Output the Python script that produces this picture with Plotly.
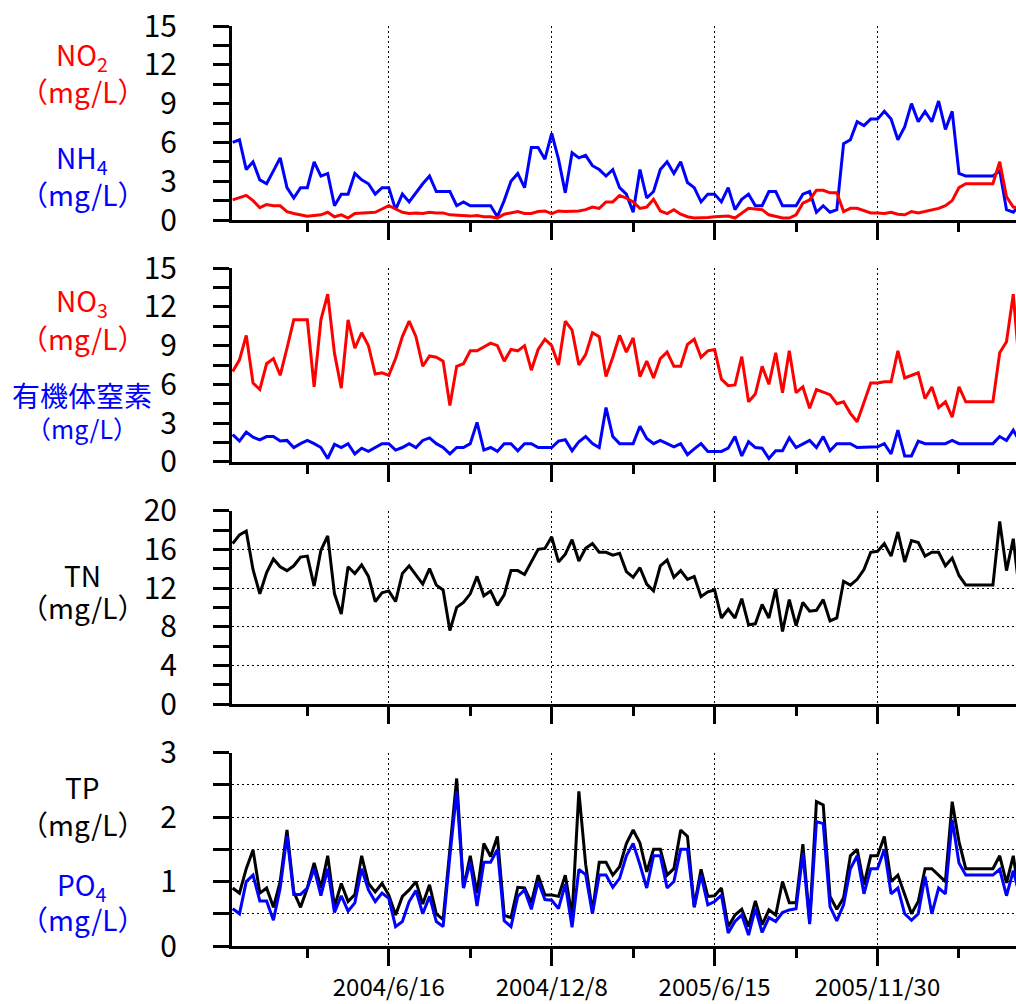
import plotly.graph_objects as go

# Sample number (weekly survey index) shared by every panel
sample_no = list(range(1, 118))

# Panel 1: nitrite and ammonium (mg/L)
no2 = [1.55, 1.7, 1.9, 1.5, 0.95, 1.2, 1.1, 1.1, 0.65, 0.5,
       0.4, 0.3, 0.35, 0.4, 0.6, 0.25, 0.4, 0.15, 0.5, 0.55,
       0.6, 0.6, 0.85, 1.1, 0.85, 0.6, 0.5, 0.55, 0.5, 0.6,
       0.55, 0.55, 0.4, 0.35, 0.3, 0.3, 0.35, 0.25, 0.25, 0.15,
       0.45, 0.55, 0.65, 0.5, 0.5, 0.65, 0.7, 0.5, 0.7, 0.65,
       0.65, 0.7, 0.8, 1.0, 0.9, 1.4, 1.4, 1.9, 1.7, 1.4,
       0.9, 1.0, 1.6, 0.7, 0.5, 0.8, 0.45, 0.25, 0.15, 0.15,
       0.2, 0.25, 0.25, 0.3, 0.15, 0.5, 0.9, 0.85, 0.8, 0.4,
       0.25, 0.15, 0.15, 0.4, 1.3, 1.55, 2.3, 2.3, 2.1, 2.1,
       0.65, 0.9, 0.9, 0.7, 0.55, 0.55, 0.5, 0.6, 0.45, 0.4,
       0.65, 0.55, 0.65, 0.8, 0.9, 1.1, 1.5, 2.5, 2.8, 2.8,
       2.8, 2.8, 2.8, 4.5, 1.8, 1.0, 0.9]
nh4 = [6.0, 6.2, 3.9, 4.5, 3.1, 2.8, 3.8, 4.8, 2.5, 1.7,
       2.5, 2.5, 4.5, 3.4, 3.6, 1.1, 2.0, 2.0, 3.6, 3.1,
       2.8, 2.0, 2.5, 2.5, 0.8, 2.0, 1.4, 2.1, 2.8, 3.4,
       2.2, 2.2, 2.2, 1.1, 1.4, 1.1, 1.1, 1.1, 1.1, 0.25,
       1.5, 3.0, 3.6, 2.5, 5.6, 5.6, 4.7, 6.7, 4.7, 2.1,
       5.2, 4.8, 5.0, 4.2, 3.9, 3.4, 3.9, 2.5, 2.0, 0.6,
       3.9, 1.7, 2.2, 3.9, 4.5, 3.6, 4.5, 2.9, 2.5, 1.4,
       2.0, 2.0, 1.4, 2.5, 0.8, 1.6, 2.0, 1.1, 1.1, 2.2,
       2.2, 1.1, 1.1, 1.1, 2.0, 2.2, 0.6, 1.1, 0.6, 0.8,
       5.9, 6.2, 7.6, 7.3, 7.8, 7.8, 8.4, 7.8, 6.2, 7.2,
       9.0, 7.6, 8.4, 7.6, 9.2, 7.0, 8.4, 3.6, 3.4, 3.4,
       3.4, 3.4, 3.4, 3.8, 0.8, 0.6, 1.2]

# Panel 2: nitrate and organic nitrogen (mg/L)
no3 = [7.0, 7.9, 9.8, 6.1, 5.6, 7.6, 8.0, 6.7, 8.8, 11.0,
       11.0, 11.0, 5.8, 11.0, 13.0, 8.4, 5.7, 11.0, 8.8, 10.0,
       9.0, 6.8, 6.9, 6.7, 8.0, 9.7, 10.9, 9.7, 7.4, 8.2,
       8.1, 7.8, 4.35, 7.4, 7.6, 8.6, 8.6, 8.9, 9.2, 9.0,
       7.8, 8.7, 8.6, 9.0, 7.1, 8.7, 9.5, 9.0, 7.5, 10.9,
       10.2, 7.5, 8.3, 10.0, 9.7, 6.6, 8.1, 9.8, 8.5, 9.6,
       6.6, 7.8, 6.5, 8.0, 8.5, 7.4, 7.4, 9.1, 9.5, 8.1,
       8.6, 8.7, 6.4, 5.9, 5.95, 8.15, 4.65, 5.25, 7.4, 6.0,
       8.45, 5.35, 8.6, 5.35, 5.8, 4.15, 5.6, 5.4, 5.2, 4.5,
       4.65, 3.75, 3.1, 4.6, 6.1, 6.1, 6.2, 6.2, 8.6, 6.5,
       6.7, 6.9, 4.9, 5.8, 4.2, 4.65, 3.45, 5.8, 4.65, 4.65,
       4.65, 4.65, 4.65, 8.45, 9.3, 13.0, 6.7]
org_n = [2.1, 1.6, 2.3, 1.9, 1.7, 1.95, 1.95, 1.6, 1.65, 1.1,
         1.4, 1.65, 1.4, 1.1, 0.25, 1.35, 1.1, 1.4, 0.6, 1.05,
         0.8, 1.1, 1.4, 1.4, 0.9, 1.1, 1.4, 1.1, 1.65, 1.85,
         1.4, 1.1, 0.6, 1.1, 1.1, 1.4, 3.05, 0.9, 1.1, 0.8,
         1.4, 1.4, 0.85, 1.4, 1.4, 1.1, 1.1, 1.1, 1.6, 1.7,
         0.85, 1.55, 1.95, 1.4, 1.1, 4.2, 1.95, 1.4, 1.4, 1.4,
         2.75, 1.8, 1.4, 1.65, 1.4, 1.15, 1.4, 0.55, 1.0, 1.4,
         0.8, 0.8, 0.8, 1.05, 1.95, 0.45, 1.55, 1.1, 1.05, 0.25,
         0.85, 0.85, 1.85, 1.1, 1.4, 1.65, 1.1, 1.95, 0.85, 1.4,
         1.4, 1.4, 1.1, 1.1, 1.15, 1.15, 1.4, 0.6, 2.45, 0.45,
         0.45, 1.6, 1.4, 1.4, 1.4, 1.4, 1.65, 1.4, 1.4, 1.4,
         1.4, 1.4, 1.4, 1.95, 1.65, 2.45, 1.5]

# Panel 3: total nitrogen (mg/L)
tn = [16.6, 17.5, 17.9, 13.9, 11.4, 13.6, 15.0, 14.2, 13.8, 14.3,
      15.2, 15.3, 12.2, 15.9, 17.4, 11.4, 9.3, 14.2, 13.5, 14.4,
      13.2, 10.6, 11.5, 11.7, 10.6, 13.5, 14.3, 13.4, 12.4, 14.0,
      12.3, 11.8, 7.6, 10.0, 10.5, 11.4, 13.2, 11.2, 11.7, 10.2,
      11.3, 13.8, 13.8, 13.4, 14.7, 16.0, 16.1, 17.3, 14.7, 15.5,
      17.0, 14.8, 16.1, 16.6, 15.7, 15.7, 15.4, 15.6, 13.7, 13.1,
      14.1, 12.4, 11.7, 14.3, 14.9, 13.1, 13.8, 12.9, 13.2, 11.1,
      11.6, 11.8, 8.9, 9.8, 8.9, 10.9, 8.2, 8.3, 10.3, 8.9,
      11.9, 7.5, 10.8, 8.1, 10.5, 9.6, 9.7, 10.8, 8.6, 8.9,
      12.7, 12.3, 12.9, 13.9, 15.7, 15.8, 16.6, 15.3, 17.8, 14.7,
      16.9, 16.7, 15.3, 15.7, 15.7, 14.3, 15.1, 13.3, 12.3, 12.3,
      12.3, 12.3, 12.3, 18.9, 13.8, 17.1, 11.0]

# Panel 4: total phosphorus and phosphate (mg/L)
tp = [0.9, 0.82, 1.2, 1.49, 0.82, 0.9, 0.6, 1.0, 1.8, 0.84,
      0.6, 0.9, 1.29, 0.9, 1.4, 0.61, 0.97, 0.69, 0.8, 1.4,
      0.97, 0.84, 0.97, 0.79, 0.48, 0.77, 0.87, 1.0, 0.65, 0.95,
      0.5, 0.41, 1.5, 2.6, 0.9, 1.4, 0.82, 1.59, 1.39, 1.7,
      0.48, 0.44, 0.91, 0.9, 0.67, 1.1, 0.79, 0.79, 0.77, 1.1,
      0.46, 2.4, 1.27, 0.53, 1.3, 1.3, 1.1, 1.23, 1.59, 1.8,
      1.6, 1.15, 1.5, 1.5, 1.1, 1.2, 1.8, 1.7, 0.61, 1.19,
      0.77, 0.78, 0.9, 0.3, 0.48, 0.57, 0.3, 0.7, 0.33, 0.56,
      0.48, 1.0, 0.67, 0.67, 1.58, 0.38, 2.24, 2.19, 0.77, 0.57,
      0.75, 1.4, 1.5, 0.95, 1.4, 1.4, 1.7, 1.0, 1.1, 0.79,
      0.5, 0.69, 1.2, 1.2, 1.1, 1.0, 2.24, 1.62, 1.2, 1.2,
      1.2, 1.2, 1.2, 1.4, 0.98, 1.4, 0.7]
po4 = [0.58, 0.5, 1.0, 1.1, 0.7, 0.7, 0.4, 0.9, 1.71, 0.8,
       0.8, 0.9, 1.2, 0.78, 1.2, 0.52, 0.78, 0.54, 0.67, 1.2,
       0.87, 0.69, 0.82, 0.74, 0.3, 0.38, 0.69, 0.86, 0.5, 0.77,
       0.38, 0.3, 1.4, 2.4, 0.9, 1.3, 0.62, 1.3, 1.3, 1.5,
       0.39, 0.3, 0.77, 0.87, 0.57, 1.0, 0.72, 0.71, 0.58, 0.96,
       0.29, 1.19, 1.11, 0.5, 1.1, 1.1, 0.91, 1.05, 1.4, 1.59,
       1.26, 0.9, 1.4, 1.4, 0.9, 1.0, 1.5, 1.5, 0.6, 1.1,
       0.64, 0.69, 0.79, 0.2, 0.38, 0.48, 0.17, 0.58, 0.21, 0.44,
       0.38, 0.52, 0.56, 0.58, 1.44, 0.34, 1.93, 1.9, 0.61, 0.39,
       0.64, 1.2, 1.4, 0.81, 1.2, 1.2, 1.5, 0.81, 0.9, 0.5,
       0.4, 0.5, 1.08, 0.5, 0.9, 0.81, 1.96, 1.29, 1.1, 1.1,
       1.1, 1.1, 1.1, 1.19, 0.78, 1.17, 0.75]

# Date axis: labelled every 24 samples, minor ticks in between
date_tick_pos = [24, 48, 72, 96]
date_tick_text = ["2004/6/16", "2004/12/8", "2005/6/15", "2005/11/30"]
minor_tick_pos = [12, 36, 60, 84, 108]

FONT = "Noto Sans CJK JP"
RED, BLUE, BLACK = "#ff0000", "#0000ff", "#000000"
W, H = 1016, 1004
ML = 232
DOT = "2px,3px"

fig = go.Figure()

def add_line(y, color, n):
    xa = "x" if n == 1 else f"x{n}"
    ya = "y" if n == 1 else f"y{n}"
    fig.add_trace(go.Scatter(x=sample_no, y=y, mode="lines",
                             line=dict(color=color, width=3),
                             xaxis=xa, yaxis=ya, showlegend=False,
                             hoverinfo="skip"))

add_line(nh4, BLUE, 1)
add_line(no2, RED, 1)
add_line(no3, RED, 2)
add_line(org_n, BLUE, 2)
add_line(tn, BLACK, 3)
add_line(tp, BLACK, 4)
add_line(po4, BLUE, 4)

def py(pix):
    return (H - pix) / H

# panel pixel extents (bottom, top)
panels = [(220, 26), (461.7, 268.3), (704, 510.7), (946, 752.7)]

def xaxis_cfg(n, anchor):
    return dict(domain=[0, 1], range=[0.9, 116.4], anchor=anchor,
                showline=True, linecolor=BLACK, linewidth=3,
                ticks="outside", ticklen=17, tickwidth=3, tickcolor=BLACK,
                tickmode="array", tickvals=date_tick_pos,
                ticktext=date_tick_text,
                minor=dict(tickmode="array", tickvals=minor_tick_pos,
                           ticks="outside", ticklen=9, tickwidth=3,
                           tickcolor=BLACK, showgrid=False),
                showgrid=True, gridcolor=BLACK, griddash=DOT, gridwidth=1,
                zeroline=False, showticklabels=(n == 4),
                tickfont=dict(family=FONT, size=24, color=BLACK),
                ticklabelstandoff=1, automargin=False, fixedrange=True)

def yaxis_cfg(n, anchor, rng, major, minor_step, minor_grid=False,
              major_grid=True):
    b, t = panels[n - 1]
    return dict(domain=[py(b), py(t)], range=rng, anchor=anchor,
                showline=True, linecolor=BLACK, linewidth=3,
                ticks="outside", ticklen=16, tickwidth=3, tickcolor=BLACK,
                tickmode="array", tickvals=major,
                ticktext=[str(v) for v in major],
                minor=dict(dtick=minor_step, tick0=0, ticks="outside",
                           ticklen=16, tickwidth=3, tickcolor=BLACK,
                           showgrid=minor_grid, gridcolor=BLACK,
                           griddash=DOT, gridwidth=1),
                showgrid=major_grid, gridcolor=BLACK, griddash=DOT,
                gridwidth=1, zeroline=False,
                tickfont=dict(family=FONT, size=30, color=BLACK),
                ticklabelstandoff=30, automargin=False, fixedrange=True)

def grid_only_axis(n, over, rng, vals):
    # overlay axis carrying only the interior dotted grid lines
    b, t = panels[n - 1]
    return dict(domain=[py(b), py(t)], range=rng, overlaying=over,
                anchor=over.replace("y", "x"),
                tickmode="array", tickvals=vals, showticklabels=False,
                ticks="", showline=False, zeroline=False,
                showgrid=True, gridcolor=BLACK, griddash=DOT, gridwidth=1,
                automargin=False, fixedrange=True)

fig.update_layout(
    width=W, height=H,
    margin=dict(l=ML, r=0, t=0, b=0, autoexpand=False),
    paper_bgcolor="white", plot_bgcolor="white",
    xaxis=xaxis_cfg(1, "y"),
    xaxis2=xaxis_cfg(2, "y2"),
    xaxis3=xaxis_cfg(3, "y3"),
    xaxis4=xaxis_cfg(4, "y4"),
    yaxis=yaxis_cfg(1, "x", [0, 15], [0, 3, 6, 9, 12, 15], 1.5,
                    major_grid=False),
    yaxis2=yaxis_cfg(2, "x2", [0, 15], [0, 3, 6, 9, 12, 15], 1.5,
                     major_grid=False),
    yaxis3=yaxis_cfg(3, "x3", [0, 20], [0, 4, 8, 12, 16, 20], 2),
    yaxis4=yaxis_cfg(4, "x4", [0, 3], [0, 1, 2, 3], 0.5, minor_grid=True),
    yaxis5=grid_only_axis(1, "y", [0, 15], [3, 6, 9, 12]),
    yaxis6=grid_only_axis(2, "y2", [0, 15], [3, 6, 9, 12]),
)

# Axis titles drawn as stacked coloured labels left of each panel
LX = (82 - ML) / (W - ML)
labels = [
    ("NO<sub>2</sub>", RED, 28, 56),
    ("（mg/L）", RED, 28, 91),
    ("NH<sub>4</sub>", BLUE, 28, 159),
    ("（mg/L）", BLUE, 28, 194),
    ("NO<sub>3</sub>", RED, 28, 302),
    ("（mg/L）", RED, 28, 338),
    ("有機体窒素", BLUE, 28, 395),
    ("（mg/L）", BLUE, 25, 428),
    ("TN", BLACK, 28, 575),
    ("（mg/L）", BLACK, 28, 607),
    ("TP", BLACK, 28, 787),
    ("（mg/L）", BLACK, 28, 824),
    ("PO<sub>4</sub>", BLUE, 28, 886),
    ("（mg/L）", BLUE, 28, 919),
]
for text, color, size, ypix in labels:
    fig.add_annotation(text=text, xref="paper", yref="paper",
                       x=LX, y=py(ypix), xanchor="center", yanchor="middle",
                       showarrow=False,
                       font=dict(family=FONT, size=size, color=color))

fig.write_html("out.html")
